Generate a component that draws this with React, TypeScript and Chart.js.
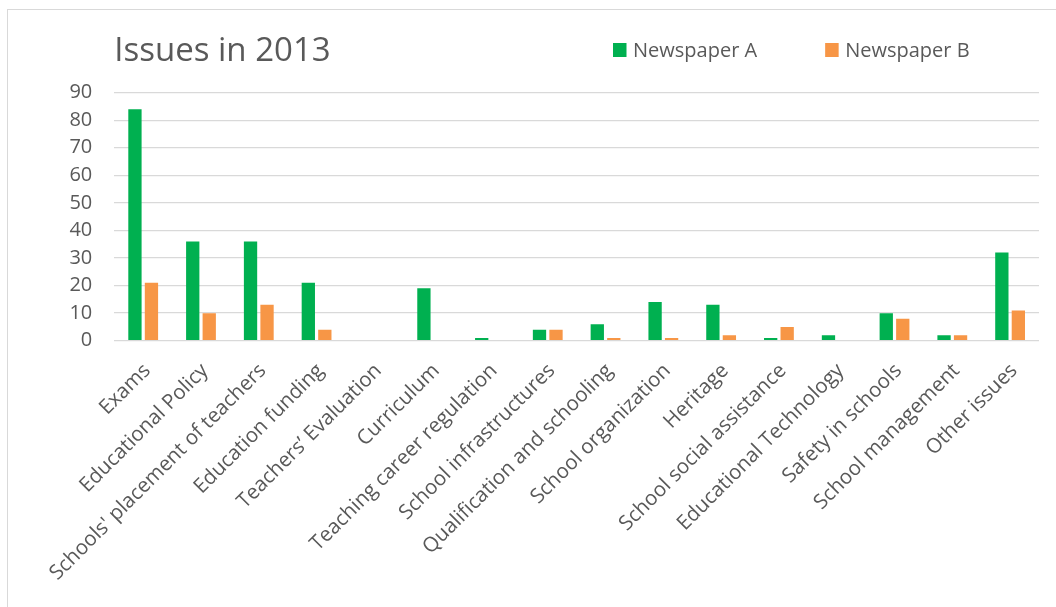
import React, { useEffect, useRef } from "react";
import { Chart, registerables } from "chart.js";

Chart.register(...registerables);

const categories = [
  "Exams",
  "Educational Policy",
  "Schools' placement of teachers",
  "Education funding",
  "Teachers’ Evaluation",
  "Curriculum",
  "Teaching career regulation",
  "School infrastructures",
  "Qualification and schooling",
  "School organization",
  "Heritage",
  "School social assistance",
  "Educational Technology",
  "Safety in schools",
  "School management",
  "Other issues",
];

const seriesNames = ["Newspaper A", "Newspaper B"];
const newspaperA = [84, 36, 36, 21, 0, 19, 1, 4, 6, 14, 13, 1, 2, 10, 2, 32];
const newspaperB = [21, 10, 13, 4, 0, 0, 0, 4, 1, 1, 2, 5, 0, 8, 2, 11];

const yMin = 0;
const yMax = 90;
const yStep = 10;
const titleText = "Issues in 2013";

const seriesColors = ["#00b050", "#f79646"];
const textColor = "#595959";
const gridColor = "#d9d9d9";
const FONT = "'Open Sans', 'Noto Sans', sans-serif";

const W = 1056;
const H = 607;

const topLegendPlugin = {
  id: "topLegend",
  afterDraw(chart: any) {
    const ctx = chart.ctx;
    ctx.save();
    ctx.font = `20px ${FONT}`;
    ctx.textBaseline = "middle";
    ctx.textAlign = "left";
    let x = 613;
    chart.data.datasets.forEach((ds: any) => {
      ctx.fillStyle = ds.backgroundColor;
      ctx.fillRect(x, 43, 13.5, 14);
      ctx.fillStyle = textColor;
      ctx.fillText(ds.label, x + 20, 51.4);
      x += 20 + ctx.measureText(ds.label).width + 68;
    });
    ctx.restore();
  },
};

export default function App() {
  const canvasRef = useRef<HTMLCanvasElement | null>(null);

  useEffect(() => {
    if (!canvasRef.current) return;
    const chart = new Chart(canvasRef.current, {
      type: "bar",
      data: {
        labels: categories,
        datasets: [
          {
            label: seriesNames[0],
            data: newspaperA,
            backgroundColor: seriesColors[0],
            borderWidth: 0,
            categoryPercentage: 0.571,
            barPercentage: 0.806,
          },
          {
            label: seriesNames[1],
            data: newspaperB,
            backgroundColor: seriesColors[1],
            borderWidth: 0,
            categoryPercentage: 0.571,
            barPercentage: 0.806,
          },
        ],
      },
      options: {
        responsive: false,
        animation: false,
        devicePixelRatio: 1,
        layout: { padding: { left: 0, right: 17, top: 0, bottom: 0 } },
        plugins: {
          legend: { display: false },
          tooltip: { enabled: false },
          title: {
            display: true,
            text: titleText,
            align: "start",
            fullSize: false,
            color: textColor,
            font: { family: FONT, size: 33, weight: "normal" },
            padding: { top: 32, bottom: 21 },
          },
        },
        scales: {
          x: {
            grid: { display: false, drawTicks: false },
            border: { display: false },
            ticks: {
              autoSkip: false,
              maxRotation: 45,
              minRotation: 45,
              padding: 18,
              labelOffset: 4,
              color: textColor,
              font: { family: FONT, size: 20.5 },
            },
            afterFit: (scale: any) => {
              scale.height = H - 340.7;
            },
          },
          y: {
            min: yMin,
            max: yMax,
            grid: { color: gridColor, lineWidth: 1.3, drawTicks: false },
            border: { display: false },
            ticks: {
              stepSize: yStep,
              padding: 22,
              color: textColor,
              font: { family: FONT, size: 20 },
            },
            afterFit: (scale: any) => {
              scale.width = 114.3;
            },
          },
        },
      },
      plugins: [topLegendPlugin],
    });
    return () => chart.destroy();
  }, []);

  return (
    <div
      style={{
        position: "fixed",
        left: 0,
        top: 0,
        width: W,
        height: H,
        background: "#fff",
        overflow: "hidden",
      }}
    >
      <div
        style={{
          position: "absolute",
          left: 7,
          top: 9,
          width: W + 20,
          height: H + 20,
          border: `1px solid ${gridColor}`,
          boxSizing: "border-box",
        }}
      />
      <canvas
        ref={canvasRef}
        width={W}
        height={H}
        style={{ position: "absolute", left: 0, top: 0, width: W, height: H }}
      />
    </div>
  );
}
